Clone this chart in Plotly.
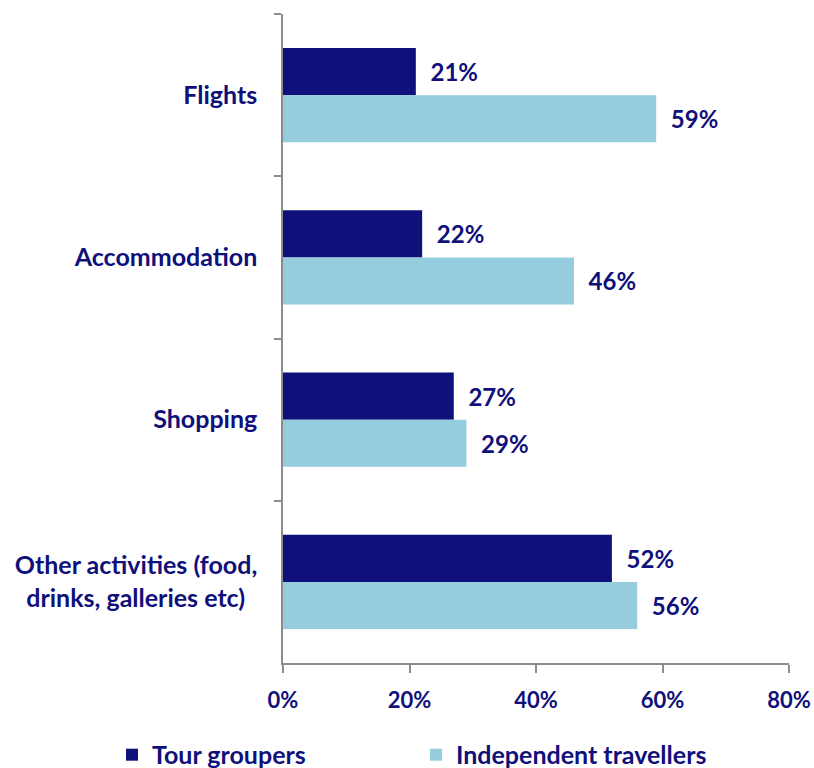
import plotly.graph_objects as go

categories = ["Flights", "Accommodation", "Shopping",
              "Other activities (food,<br>drinks, galleries etc)\u00a0\u00a0"]
tour_groupers = [21, 22, 27, 52]
independent_travellers = [59, 46, 29, 56]
x_ticks = [0, 20, 40, 60, 80]
x_tick_labels = ["0%", "20%", "40%", "60%", "80%"]

NAVY = "#10107A"
LIGHT = "#96CDDE"
AXIS = "#8C8C8C"
FONT = "Lato"
PAD = "\u00a0\u00a0"


def bold(size):
    return dict(family=FONT, size=size, color=NAVY, weight="bold")


fig = go.Figure()
fig.add_trace(go.Bar(
    y=categories, x=tour_groupers, orientation="h", name="Tour groupers",
    marker=dict(color=NAVY, line=dict(width=0)),
    text=[f"{PAD}{v}%" for v in tour_groupers], textposition="outside",
    textfont=bold(24), cliponaxis=False, legend="legend",
))
fig.add_trace(go.Bar(
    y=categories, x=independent_travellers, orientation="h", name="Independent travellers",
    marker=dict(color=LIGHT, line=dict(width=0)),
    text=[f"{PAD}{v}%" for v in independent_travellers], textposition="outside",
    textfont=bold(24), cliponaxis=False, legend="legend2",
))

legend_common = dict(
    orientation="h", xanchor="left", xref="container",
    yref="container", y=0.017, yanchor="middle",
    font=bold(25), bgcolor="rgba(0,0,0,0)",
)
fig.update_layout(
    width=814, height=768,
    margin=dict(l=283, r=25, t=14, b=105, autoexpand=False),
    barmode="group", bargap=0.42, bargroupgap=0,
    plot_bgcolor="white", paper_bgcolor="white",
    font=dict(family=FONT, size=24, color=NAVY),
    showlegend=True,
    legend=dict(x=112 / 814, **legend_common),
    legend2=dict(x=416 / 814, **legend_common),
)
fig.update_xaxes(
    range=[0, 80], tickvals=x_ticks, ticktext=x_tick_labels,
    showgrid=False, zeroline=False,
    showline=True, linecolor=AXIS, linewidth=1.5,
    ticks="outside", ticklen=8, tickcolor=AXIS, tickwidth=1.5,
    tickfont=bold(22), ticklabelstandoff=9,
)
fig.update_yaxes(
    autorange="reversed", showgrid=False, zeroline=False,
    showline=True, linecolor=AXIS, linewidth=1.5,
    ticks="outside", ticklen=7, tickcolor=AXIS, tickwidth=1.5,
    tickson="boundaries", tickfont=bold(25), ticklabelstandoff=19,
)

fig.write_html("out.html")
